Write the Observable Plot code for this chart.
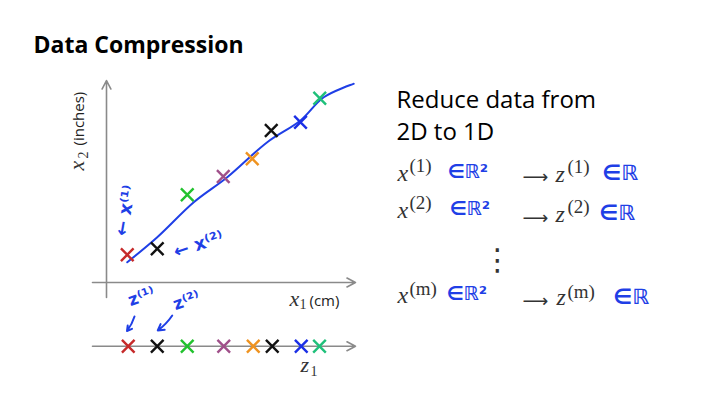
<!DOCTYPE html>
<html><head><meta charset="utf-8">
<script src="https://cdn.jsdelivr.net/npm/d3@7"></script>
<script src="https://cdn.jsdelivr.net/npm/@observablehq/plot@0.6"></script>
<style>body{margin:0;background:#fff;} #chart svg{display:block}</style>
</head><body><div id="chart"></div>
<script>
// ---- data (x1 in "cm" units, x2 in "inches" units) ----
const x1 = [0.83, 2.03, 3.23, 4.67, 5.83, 6.59, 7.76, 8.53];
const x2 = [1.11, 1.35, 3.51, 4.24, 4.95, 6.08, 6.41, 7.37];
const z1 = [0.87, 2.03, 3.23, 4.69, 5.87, 6.63, 7.79, 8.52];
const pointColors = ["#c62a2a","#111111","#22c22e","#a0508a","#ef9320","#111111","#1b2fe6","#1fc07a"];
const lineX = [0.83, 2.03, 3.49, 4.83, 6.43, 7.76, 8.69, 9.89];
const lineY = [0.81, 1.81, 3.21, 4.21, 5.61, 6.48, 7.41, 7.95];

// layout constants
const zRow = -2.55;
const blue = "#1f3fe6", gray = "#8a8a8a", mathGray = "#333";
const serif = "Liberation Serif", sans = "Open Sans", hand = "DejaVu Sans";

const pts = x1.map((v, i) => ({x1: v, x2: x2[i], z1: z1[i], c: pointColors[i]}));
const curve = lineX.map((v, i) => ({x: v, y: lineY[i]}));
const axes = [
  {x1: -0.56, y1: 0, x2: 9.96, y2: 0},
  {x1: 0, y1: -0.6, x2: 0, y2: 8.08},
  {x1: -0.56, y1: zRow, x2: 9.96, y2: zRow}
];
const handArrows = [
  {x1: 1.12, y1: -1.36, x2: 0.82, y2: -1.94},
  {x1: 2.63, y1: -1.32, x2: 2.05, y2: -1.92}
];

const T = (text, x, y, o = {}) => Plot.text([text], {frameAnchor: "top-left", dx: x, dy: y,
  lineAnchor: "bottom", textAnchor: "start", fill: "#000", ...o});
const M = {fontFamily: serif, fontStyle: "italic", fontSize: 24, fill: mathGray};
const S = {fontFamily: serif, fontSize: 19, fill: mathGray};
const B = {fontFamily: hand, fontWeight: "bold", fontSize: 19, fill: blue};
const A = {fontFamily: "DejaVu Sans ExtraLight, DejaVu Sans", fontSize: 18, fill: mathGray};
const H = {fontFamily: hand, fontWeight: "bold", fontSize: 17, fill: blue, textAnchor: "middle", lineAnchor: "middle"};

const plot = Plot.plot({
  width: 709, height: 394, margin: 0,
  x: {domain: [0, 10], range: [106, 356], axis: null},
  y: {domain: [0, 8], range: [282, 82], axis: null},
  color: {type: "identity"},
  style: {background: "#fff", overflow: "visible"},
  marks: [
    Plot.arrow(axes, {x1: "x1", y1: "y1", x2: "x2", y2: "y2", stroke: gray, strokeWidth: 1.6, headLength: 9, headAngle: 55}),
    Plot.line(curve, {x: "x", y: "y", curve: "catmull-rom", stroke: blue, strokeWidth: 2}),
    Plot.dot(pts, {x: "x1", y: "x2", symbol: "times", r: 5.8, stroke: "c", fill: "none", strokeWidth: 2.4}),
    Plot.dot(pts, {x: "z1", y: () => zRow, symbol: "times", r: 5.8, stroke: "c", fill: "none", strokeWidth: 2.4}),
    Plot.arrow(handArrows, {x1: "x1", y1: "y1", x2: "x2", y2: "y2", stroke: blue, strokeWidth: 2, headLength: 6, bend: 10}),

    // title
    T("Data Compression", 33, 52, {fontFamily: sans, fontWeight: "bold", fontSize: 23}),

    // axis labels
    T("x", 83, 170, {...M, fontSize: 22, rotate: -90}),
    T("2", 87, 158, {...S, fontSize: 14, rotate: -90}),
    T("(inches)", 83, 145, {fontFamily: sans, fontSize: 15, fill: "#222", rotate: -90}),
    T("x", 289, 305, {...M, fontSize: 22}),
    T("1", 299, 308, {...S, fontSize: 14}),
    T("(cm)", 309, 305, {fontFamily: sans, fontSize: 15, fill: "#222"}),
    T("z", 300, 371, {...M, fontSize: 22}),
    T("1", 310, 375, {...S, fontSize: 14}),

    // handwritten annotations
    T("← x⁽¹⁾", 125, 210, {...H, fontSize: 18, rotate: -80}),
    T("← x⁽²⁾", 198, 244, {...H, fontSize: 18, rotate: -18}),
    T("z⁽¹⁾", 141, 296, {...H, rotate: -20}),
    T("z⁽²⁾", 186, 300, {...H, rotate: -20}),

    // right block
    T("Reduce data from", 396, 107, {fontFamily: sans, fontSize: 24}),
    T("2D to 1D", 396, 139, {fontFamily: sans, fontSize: 24}),

    T("x", 397, 180, M), T("(1)", 409, 171, S), T("∈ℝ²", 447, 177, B),
    T("⟶", 522, 182, A), T("z", 555, 181, M), T("(1)", 567, 172, S), T("∈ℝ", 602, 179, {...B, fontSize: 21}),

    T("x", 397, 217, M), T("(2)", 409, 208, S), T("∈ℝ²", 449, 214, B),
    T("⟶", 522, 223, A), T("z", 555, 221, M), T("(2)", 567, 212, S), T("∈ℝ", 599, 219, {...B, fontSize: 21}),

    T("⋮", 497, 260, {fontFamily: "DejaVu Sans ExtraLight, DejaVu Sans", fontSize: 30, fill: mathGray, textAnchor: "middle", lineAnchor: "middle"}),

    T("x", 397, 302, M), T("(m)", 409, 294, S), T("∈ℝ²", 446, 299, B),
    T("⟶", 522, 306, A), T("z", 556, 304, M), T("(m)", 567, 297, S), T("∈ℝ", 613, 303, {...B, fontSize: 21})
  ]
});
document.getElementById("chart").append(plot);
</script>
</body></html>
